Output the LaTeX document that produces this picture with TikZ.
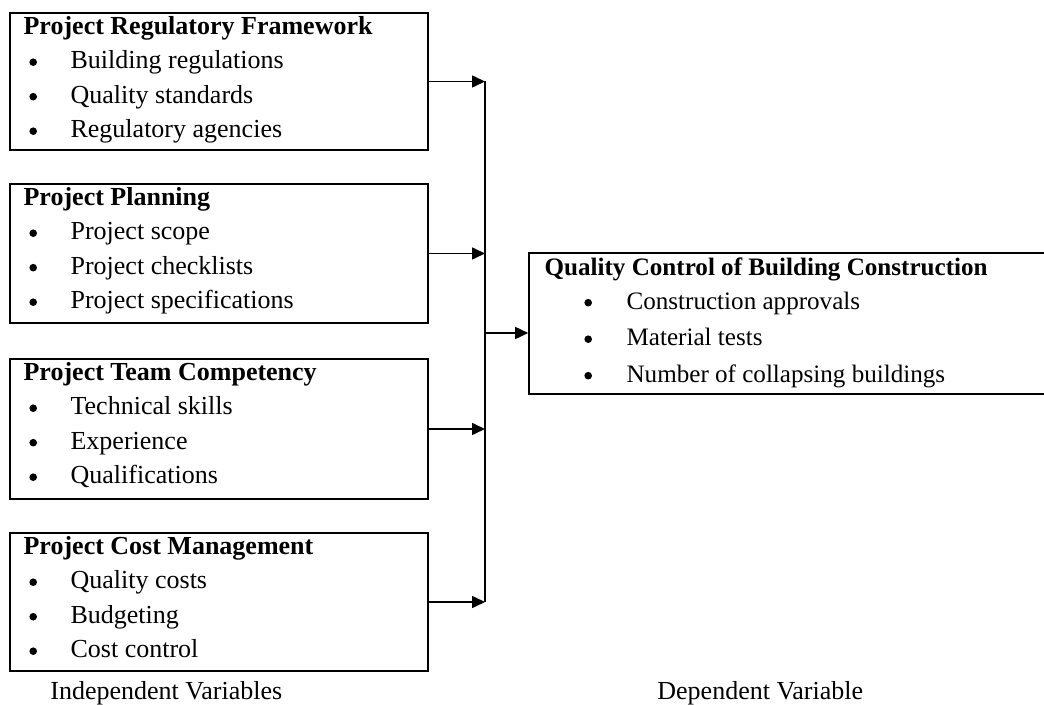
\documentclass[tikz,border=0pt]{standalone}
\usepackage{fontspec}
\setmainfont{Liberation Serif}
\usetikzlibrary{arrows.meta,calc,fit}

\newcommand\bodysize{\fontsize{13pt}{16pt}\selectfont}
\newcommand\outcomesize{\fontsize{12.55pt}{15.5pt}\selectfont}

\tikzset{
  frame/.style={draw, line width=0.8pt, inner sep=0pt, rectangle},
  head/.style={font=\bodysize\bfseries, inner sep=0pt, anchor=base west},
  itemtext/.style={font=\bodysize, inner sep=0pt, anchor=base west},
  bulletmark/.style={circle, fill, inner sep=0pt, minimum size=3.8pt},
  caption/.style={font=\bodysize, inner sep=0pt, anchor=base west},
  link/.style={line width=0.8pt, -{Triangle[length=6.5pt,width=6pt]}},
  wire/.style={line width=0.8pt},
}

% one independent-variable box: name, left, top, right, bottom, heading, items
\newcommand\varframe[7]{%
  \node[frame, fit={(#2,#3) (#4,#5)}] (#1) {};
  \node[head] (#1-h) at ($(#1.north west)+(14,22)$) {#6};
  \foreach \txt [count=\k] in {#7} {
    \node[bulletmark] (#1-d\k) at ($(#1.north west)+(24,15.5+34.5*\k)$) {};
    \node[itemtext] (#1-i\k) at ($(#1.north west)+(61,22+34.5*\k)$) {\txt};
  }
}

\begin{document}
\begin{tikzpicture}[x=0.5pt, y=-0.5pt]
  \useasboundingbox (0,0) rectangle (1044,705);
  \clip (0,0) rectangle (1044,705);

  % independent variables
  \varframe{reg}{10}{13}{428}{150}{Project Regulatory Framework}%
    {Building regulations,Quality standards,Regulatory agencies}
  \varframe{plan}{10}{184}{428}{323}{Project Planning}%
    {Project scope,Project checklists,Project specifications}
  \varframe{team}{10}{359}{428}{499}{Project Team Competency}%
    {Technical skills,Experience,Qualifications}
  \varframe{cost}{10}{533}{428}{671}{Project Cost Management}%
    {Quality costs,Budgeting,Cost control}

  % dependent variable
  \node[frame, fit={(529,253) (1052,394)}] (qc) {};
  \node[head, font=\outcomesize\bfseries] (qc-h) at ($(qc.north west)+(16,23)$)
    {Quality Control of Building Construction};
  \foreach \txt [count=\k] in {Construction approvals,Material tests,Number of collapsing buildings} {
    \node[bulletmark] (qc-d\k) at ($(qc.north west)+(60,14+36.5*\k)$) {};
    \node[itemtext, font=\outcomesize] (qc-i\k) at ($(qc.north west)+(98,20.5+36.5*\k)$) {\txt};
  }

  % collecting line
  \coordinate (spine) at (485,0);
  \coordinate (hub) at (485,333);
  \foreach \b in {reg,plan,team,cost}
    \draw[link] (\b.east) -- (\b.east -| spine);
  \draw[wire] (reg.east -| spine) -- (cost.east -| spine);
  \draw[link] (hub) -- (hub -| qc.west);

  % captions
  \node[caption] (indep) at (50,699) {Independent Variables};
  \node[caption] (dep) at (657,699) {Dependent Variable};
\end{tikzpicture}
\end{document}
